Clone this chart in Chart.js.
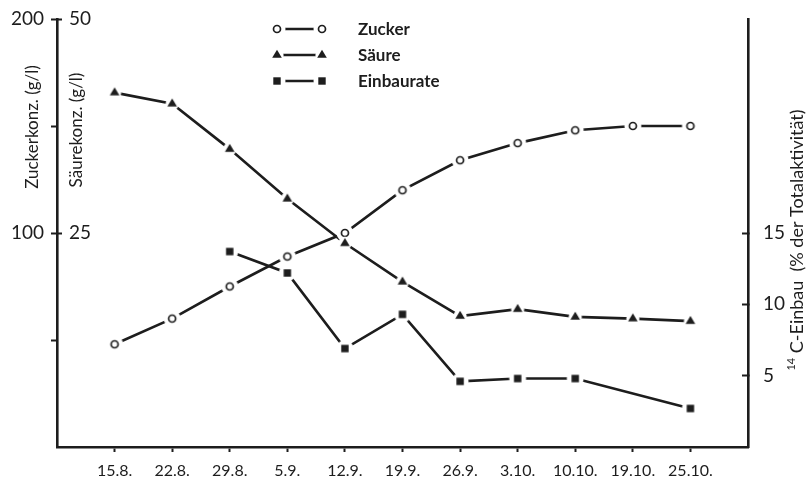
<!DOCTYPE html>
<html>
<head>
<meta charset="utf-8">
<script src="https://cdn.jsdelivr.net/npm/chart.js@4.4.0/dist/chart.umd.min.js"></script>
<style>
  html, body { margin: 0; padding: 0; background: #fff; }
  #wrap { width: 808px; height: 479px; }
</style>
</head>
<body>
<div id="wrap"><canvas id="chart"></canvas></div>
<script>
// Messdaten
const dates = ['15.8.', '22.8.', '29.8.', '5.9.', '12.9.', '19.9.', '26.9.', '3.10.', '10.10.', '19.10.', '25.10.'];
const zucker = [48, 60, 75, 89, 100, 120, 134, 142, 148, 150, 150];
const saeure = [41.4, 40.1, 34.8, 29, 23.8, 19.3, 15.3, 16.1, 15.2, 15, 14.7];
const einbau = [null, null, 13.7, 12.2, 6.9, 9.3, 4.6, 4.8, 4.8, null, 2.7];

// Achsen-Ticks
const zuckerTicks = [50, 100, 150, 200];
const zuckerLabels = [100, 200];
const saeureTicks = [25, 50];
const einbauTicks = [5, 10, 15];

const ink = '#1d1d1d';
const font = 'Lato';

const pts = arr => arr.map((v, i) => ({ x: i, y: v }));

// Punktsymbol mit weissem Hof, damit die Linie vor dem Punkt absetzt
const markerImage = (kind, halo) => {
  const c = document.createElement('canvas');
  c.width = 22;
  c.height = 22;
  const g = c.getContext('2d');
  g.fillStyle = '#fff';
  g.beginPath();
  g.arc(11, 11, halo, 0, Math.PI * 2);
  g.fill();
  g.fillStyle = ink;
  g.strokeStyle = ink;
  if (kind === 'circle') {
    g.beginPath();
    g.arc(11, 11, 3.5, 0, Math.PI * 2);
    g.fillStyle = '#fff';
    g.fill();
    g.lineWidth = 1.7;
    g.stroke();
  } else if (kind === 'triangle') {
    g.beginPath();
    g.moveTo(11, 5.8);
    g.lineTo(15.8, 13.8);
    g.lineTo(6.2, 13.8);
    g.closePath();
    g.fill();
  } else {
    g.fillRect(7.3, 7.3, 7.4, 7.4);
  }
  return c;
};

const circleImg = markerImage('circle', 8.5);
const triangleImg = markerImage('triangle', 6.6);
const squareImg = markerImage('square', 8.5);

const series = [
  { data: einbau, axis: 'yRate', img: squareImg },
  { data: saeure, axis: 'yAcid', img: triangleImg },
  { data: zucker, axis: 'ySugar', img: circleImg }
];

// erster Datensatz liegt oben: Punkte, dann Linien
const markerSets = series.map(s => ({
  data: pts(s.data), yAxisID: s.axis, showLine: false, pointStyle: s.img, pointRadius: 5
}));
const lineSets = series.map(s => ({
  data: pts(s.data), yAxisID: s.axis, borderColor: ink, borderWidth: 2.6, pointRadius: 0, spanGaps: true
}));

// Titel und Legende von Hand
const extras = {
  id: 'extras',
  afterDraw(chart) {
    const ctx = chart.ctx;
    ctx.save();
    ctx.fillStyle = ink;
    ctx.strokeStyle = ink;
    ctx.textBaseline = 'middle';

    const vtext = (txt, x, y) => {
      ctx.save();
      ctx.translate(x, y);
      ctx.rotate(-Math.PI / 2);
      ctx.textAlign = 'center';
      ctx.fillText(txt, 0, 0);
      ctx.restore();
    };
    ctx.font = '17px ' + font;
    vtext('Zuckerkonz. (g/l)', 33, 127);
    vtext('Säurekonz. (g/l)', 77, 130);

    // rechter Titel mit hochgestelltem 14
    ctx.save();
    ctx.translate(797, 240);
    ctx.rotate(-Math.PI / 2);
    ctx.textAlign = 'left';
    const rest = ' C-Einbau  (% der Totalaktivität)';
    ctx.font = '11px ' + font;
    const w1 = ctx.measureText('14').width;
    ctx.font = '18px ' + font;
    const w2 = ctx.measureText(rest).width;
    const x0 = -(w1 + w2) / 2;
    ctx.font = '11px ' + font;
    ctx.fillText('14', x0, -6);
    ctx.font = '18px ' + font;
    ctx.fillText(rest, x0 + w1, 0);
    ctx.restore();

    // Legende
    const rows = [
      { y: 29, name: 'Zucker', img: circleImg },
      { y: 55, name: 'Säure', img: triangleImg },
      { y: 81, name: 'Einbaurate', img: squareImg }
    ];
    rows.forEach(r => {
      ctx.lineWidth = 2.4;
      ctx.beginPath();
      ctx.moveTo(280, r.y);
      ctx.lineTo(319, r.y);
      ctx.stroke();
      ctx.drawImage(r.img, 277 - 11, r.y - 11);
      ctx.drawImage(r.img, 322 - 11, r.y - 11);
      ctx.fillStyle = ink;
      ctx.font = 'bold 17px ' + font;
      ctx.textAlign = 'left';
      ctx.fillText(r.name, 358, r.y + 1);
    });
    ctx.restore();
  }
};

const tickFont = { family: font, size: 19 };
const noPad = s => { s.paddingTop = 0; s.paddingBottom = 0; };

new Chart(document.getElementById('chart'), {
  type: 'line',
  data: { datasets: [...markerSets, ...lineSets] },
  options: {
    responsive: true,
    maintainAspectRatio: false,
    animation: false,
    layout: { padding: { top: 19, left: 0, right: 0, bottom: 0 } },
    plugins: { legend: { display: false }, tooltip: { enabled: false } },
    scales: {
      x: {
        type: 'linear', min: -1, max: 11,
        afterBuildTicks: s => { s.ticks = dates.map((d, i) => ({ value: i })); },
        afterFit: s => { s.height = 32; s.paddingLeft = 0; s.paddingRight = 0; },
        ticks: { color: ink, font: { family: font, size: 16 }, padding: 9, maxRotation: 0, autoSkip: false,
          callback: v => dates[v] ?? '' },
        grid: { drawOnChartArea: false, tickLength: 5, tickWidth: 2, tickColor: ink },
        border: { color: ink, width: 2.6 }
      },
      ySugar: {
        position: 'left', weight: 1, min: 0, max: 200,
        afterBuildTicks: s => { s.ticks = zuckerTicks.map(v => ({ value: v })); },
        afterFit: s => { s.width = 57; noPad(s); },
        ticks: { color: ink, font: tickFont, padding: 7,
          callback: v => zuckerLabels.includes(v) ? String(v) : '' },
        grid: { drawOnChartArea: false, tickLength: 6, tickWidth: 2, tickColor: ink },
        border: { color: ink, width: 2.6 }
      },
      yAcid: {
        position: 'left', weight: 0, min: 0, max: 50,
        afterBuildTicks: s => { s.ticks = saeureTicks.map(v => ({ value: v })); },
        afterFit: s => { s.width = 0; noPad(s); },
        ticks: { color: ink, font: tickFont, mirror: true, padding: 12, callback: v => String(v) },
        grid: { drawOnChartArea: false, tickLength: -5, tickWidth: 2, tickColor: ink },
        border: { display: false }
      },
      yRate: {
        position: 'right', min: 0, max: 30,
        afterBuildTicks: s => { s.ticks = einbauTicks.map(v => ({ value: v })); },
        afterFit: s => { s.width = 60; noPad(s); },
        ticks: { color: ink, font: tickFont, padding: 21, callback: v => String(v) },
        grid: { drawOnChartArea: false, tickLength: -6, tickWidth: 2, tickColor: ink },
        border: { color: ink, width: 2.6 }
      }
    }
  },
  plugins: [extras]
});
</script>
</body>
</html>
